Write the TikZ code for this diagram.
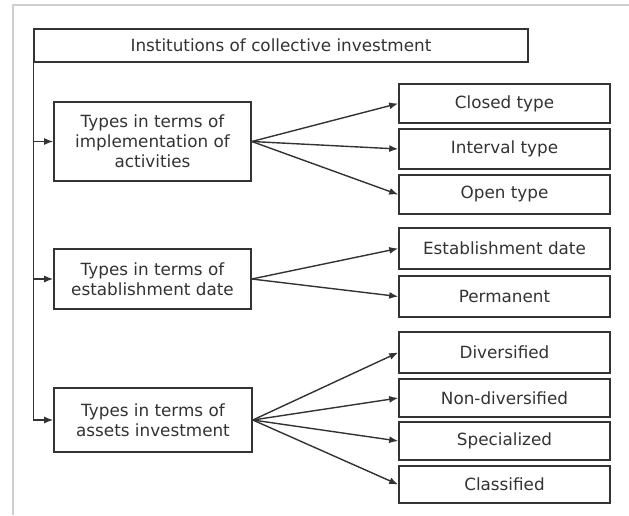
\documentclass[tikz,border=0pt]{standalone}
\usepackage{fontspec}
\setmainfont{DejaVu Sans}
\usetikzlibrary{arrows.meta}
\definecolor{ink}{HTML}{333333}
\definecolor{frame}{HTML}{CFCFCF}
\begin{document}
\begin{tikzpicture}[x=1pt,y=-1pt,
  box/.style={draw=ink, line width=1.6pt, inner sep=0pt, align=center, text=ink,
    font=\fontsize{16.8}{20}\selectfont},
  rbox/.style={box, minimum width=211pt},
  conn/.style={draw=ink, line width=1.4pt, -{Latex[length=9pt,width=7pt]}}]
\useasboundingbox (0,0) rectangle (629,515);
\fill[white] (0,0) rectangle (629,515);
\draw[frame, line width=1.5pt] (13,515) -- (13,5) -- (629,5);
% main nodes
\node[box, minimum width=494pt, minimum height=33pt] (top) at (281,45.5) {Institutions of collective investment};
\node[box, minimum width=197pt, minimum height=79pt] (b1) at (152.5,141.5) {Types in terms of\\implementation of\\activities};
\node[box, minimum width=197pt, minimum height=60pt] (b2) at (152.5,279) {Types in terms of\\establishment date};
\node[box, minimum width=198pt, minimum height=64pt] (b3) at (153,420) {Types in terms of\\assets investment};
% right nodes
\node[rbox, minimum height=39pt] (closed) at (504.5,103.5) {Closed type};
\node[rbox, minimum height=40pt] (interval) at (504.5,149) {Interval type};
\node[rbox, minimum height=39pt] (open) at (504.5,194.5) {Open type};
\node[rbox, minimum height=41pt] (estab) at (504.5,248.5) {Establishment date};
\node[rbox, minimum height=41pt] (perm) at (504.5,296.5) {Permanent};
\node[rbox, minimum height=41pt] (div) at (504.5,352.5) {Diversified};
\node[rbox, minimum height=38pt] (nondiv) at (504.5,398) {Non-diversified};
\node[rbox, minimum height=38pt] (spec) at (504.5,441) {Specialized};
\node[rbox, minimum height=37pt] (class) at (504.5,484.5) {Classified};
% left spine
\draw[conn] (top.south west) |- (b3.west);
\draw[conn] (top.south west |- b1.west) -- (b1.west);
\draw[conn] (top.south west |- b2.west) -- (b2.west);
% fan-out connectors
\foreach \t in {closed,interval,open} \draw[conn] (b1.east) -- (\t.west);
\foreach \t in {estab,perm} \draw[conn] (b2.east) -- (\t.west);
\foreach \t in {div,nondiv,spec,class} \draw[conn] (b3.east) -- (\t.west);
\end{tikzpicture}
\end{document}
